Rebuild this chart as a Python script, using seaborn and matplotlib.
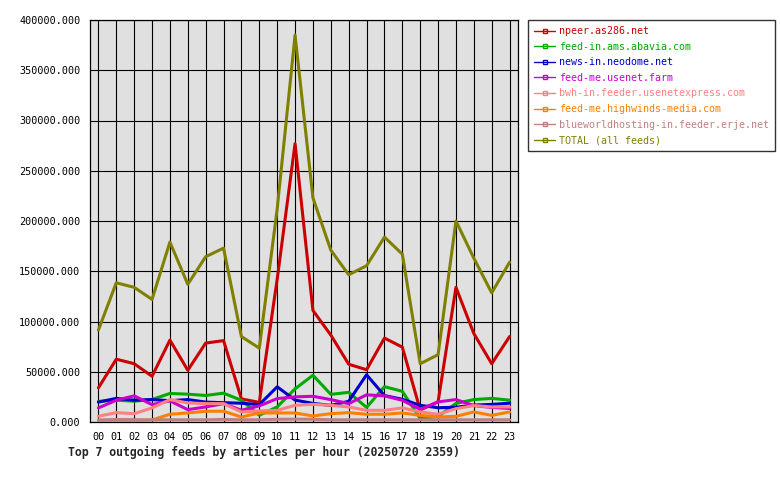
import pandas as pd
import matplotlib
matplotlib.use("Agg")
import matplotlib.pyplot as plt
import seaborn as sns
from matplotlib.lines import Line2D
from matplotlib.ticker import FuncFormatter, MultipleLocator

# hours of the day
hours = [f"{h:02d}" for h in range(24)]

feed_names = [
    "npeer.as286.net",
    "feed-in.ams.abavia.com",
    "news-in.neodome.net",
    "feed-me.usenet.farm",
    "bwh-in.feeder.usenetexpress.com",
    "feed-me.highwinds-media.com",
    "blueworldhosting-in.feeder.erje.net",
    "TOTAL (all feeds)",
]

npeer = [34000, 62500, 58000, 45500, 81500, 51500, 78500, 81000, 23000, 19500, 142000, 277000,
         111000, 86500, 57500, 52000, 83500, 74500, 12000, 20000, 134000, 88000, 58000, 85000]
abavia = [20500, 21700, 20700, 22400, 28400, 27700, 26400, 28700, 21600, 6700, 15000, 33000,
          46500, 27500, 29500, 14500, 35200, 30500, 3500, 5500, 18500, 22300, 23500, 21700]
neodome = [19800, 23500, 21700, 22300, 21200, 22300, 19800, 19200, 18700, 17300, 35000, 21800,
           18500, 16500, 20600, 47000, 26300, 22600, 16600, 14200, 14700, 16800, 17500, 18700]
usenetfarm = [14000, 21700, 26000, 17300, 21000, 12300, 15000, 18300, 11700, 16000, 23300, 25000,
              25600, 22300, 18300, 27000, 26000, 21600, 12600, 20000, 22300, 16300, 14500, 13500]
usenetexpress = [5700, 9300, 8300, 14000, 22300, 19000, 18300, 18300, 10000, 11000, 11600, 16600,
                 17600, 16600, 15000, 11600, 11600, 14000, 10000, 7700, 13300, 16300, 15000, 15000]
highwinds = [300, 400, 600, 2000, 7700, 9000, 10700, 10700, 5000, 9000, 9000, 9000,
             6000, 8300, 9300, 7700, 7700, 9000, 6600, 5000, 5600, 10000, 6600, 10000]
erje = [2000, 2500, 2300, 2200, 2200, 2200, 2200, 2600, 2200, 2200, 2700, 2800,
        2700, 2200, 2200, 2200, 2200, 2200, 2200, 2200, 2200, 2200, 2200, 2200]
total = [91500, 138500, 134000, 122000, 179000, 137000, 164500, 173000, 85000, 73500, 212000, 385000,
         223000, 171000, 146500, 155500, 184000, 167000, 58000, 67000, 200000, 163000, 128500, 159000]

colors = ["#cc0000", "#00aa00", "#0000cc", "#cc00cc", "#ff8080", "#ff8000", "#c08080", "#808000"]

series = [npeer, abavia, neodome, usenetfarm, usenetexpress, highwinds, erje, total]
frames = []
for name, vals in zip(feed_names, series):
    frames.append(pd.DataFrame({"hour": range(24), "articles": vals, "feed": name}))
df = pd.concat(frames, ignore_index=True)

sns.set_style("white")
mono = ["DejaVu Sans Mono"]
plt.rcParams["font.family"] = mono

fig = plt.figure(figsize=(7.8, 4.8), dpi=100)
ax = fig.add_axes([90 / 780, 58 / 480, 428 / 780, 402 / 480])
ax.set_facecolor("#e0e0e0")

sns.lineplot(data=df, x="hour", y="articles", hue="feed", hue_order=feed_names,
             palette=colors, linewidth=2.2, legend=False, ax=ax, zorder=3)

ax.set_xlim(-0.47, 23.47)
ax.set_ylim(0, 400000)
ax.set_xticks(range(24))
ax.set_xticklabels(hours)
ax.yaxis.set_major_locator(MultipleLocator(50000))
ax.yaxis.set_major_formatter(FuncFormatter(lambda v, p: f"{v:.3f}"))
ax.grid(True, color="black", linewidth=0.8)
ax.set_axisbelow(True)
for s in ax.spines.values():
    s.set_color("black")
    s.set_linewidth(0.9)
ax.tick_params(axis="both", direction="out", length=3, width=0.8, color="black",
               labelsize=7.3, pad=4, labelcolor="black")
ax.set_xlabel("")
ax.set_ylabel("")

handles = [Line2D([0], [0], color=c, lw=1, marker="s", markersize=2.5,
                  markerfacecolor="none", markeredgecolor=c) for c in colors]
leg = fig.legend(handles, feed_names, loc="upper left",
                 bbox_to_anchor=(528 / 780, 1 - 20 / 480),
                 prop={"family": mono, "size": 7.2}, frameon=True, fancybox=False,
                 edgecolor="black", handlelength=2.1, handletextpad=0.4,
                 labelspacing=0.56, borderpad=0.6, borderaxespad=0, numpoints=1)
leg.get_frame().set_linewidth(1)
for t, c in zip(leg.get_texts(), colors):
    t.set_color(c)

fig.text(68 / 780, 1 - 452 / 480,
         "Top 7 outgoing feeds by articles per hour (20250720 2359)",
         family=mono, weight="bold", fontsize=8.3, va="center", ha="left")

fig.savefig("out.png", dpi=100, facecolor="white")
